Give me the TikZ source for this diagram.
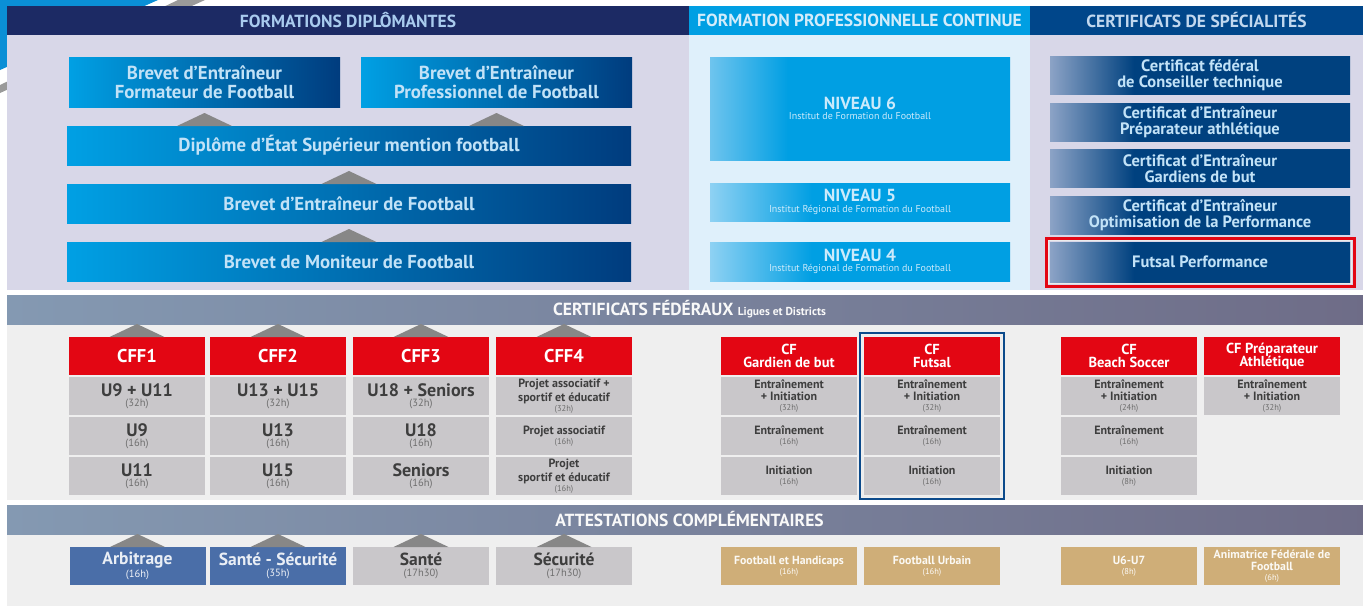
\documentclass[tikz,border=0pt]{standalone}
\usepackage{fontspec}
\setmainfont{PT Sans}
\usetikzlibrary{positioning}

\definecolor{navy}{HTML}{1C2A64}
\definecolor{sky}{HTML}{009FE3}
\definecolor{royal}{HTML}{00468A}
\definecolor{lavender}{HTML}{D8D7E8}
\definecolor{icy}{HTML}{DFF0FB}
\definecolor{dipL}{HTML}{00A0E4}
\definecolor{dipR}{HTML}{003C7E}
\definecolor{txtLB}{HTML}{C2E2F7}
\definecolor{txtN}{HTML}{CBEAFB}
\definecolor{hdA}{HTML}{A9CBEE}
\definecolor{hdB}{HTML}{D3ECFB}
\definecolor{hdC}{HTML}{C1D7EE}
\definecolor{nivL}{HTML}{8ED1F3}
\definecolor{nivM}{HTML}{6EC4EE}
\definecolor{certL}{HTML}{8CA3C6}
\definecolor{certD}{HTML}{00417F}
\definecolor{bandL}{HTML}{8499B2}
\definecolor{bandR}{HTML}{6E6C87}
\definecolor{pale}{HTML}{EFEFEF}
\definecolor{cfred}{HTML}{E30613}
\definecolor{cellgray}{HTML}{C9C7CA}
\definecolor{celltxt}{HTML}{3E3E3E}
\definecolor{trigray}{HTML}{878787}
\definecolor{attblue}{HTML}{4A6EA8}
\definecolor{gold}{HTML}{CFAE78}
\definecolor{framebl}{HTML}{0B4A8B}
\definecolor{decoblue}{HTML}{0A8FD6}
\definecolor{decogray}{HTML}{9A9A9A}

\pgfdeclarehorizontalshading{certshade}{100bp}{color(0bp)=(certL); color(25bp)=(certL); color(39bp)=(certD); color(100bp)=(certD)}
\pgfdeclarehorizontalshading{nivshade}{100bp}{color(0bp)=(nivL); color(25bp)=(nivL); color(42bp)=(sky); color(100bp)=(sky)}
\pgfdeclarehorizontalshading{nivsixshade}{100bp}{color(0bp)=(nivM); color(25bp)=(nivM); color(38bp)=(sky); color(100bp)=(sky)}

% hours, small and big
\newcommand\hrs[1]{\\{\mdseries\fontsize{8.5}{8}\selectfont\color{.!75!white}(#1)}}
\newcommand\hrb[1]{\\{\mdseries\fontsize{10.5}{8}\selectfont\color{.!75!white}(#1)}}
\newcommand\nivtitle[1]{{\bfseries\fontsize{17.5}{10}\selectfont #1}}
\newcommand\steptri[1]{\fill[tri] ([xshift=-27.5pt]#1) -- ([yshift=13pt]#1) -- ([xshift=27.5pt]#1) -- cycle;}

\tikzset{
    box/.style={inner sep=0pt, outer sep=0pt, align=center},
    head/.style={box, minimum height=29pt, font=\bfseries\fontsize{17.5}{16}\selectfont},
    band/.style={box, minimum height=29pt, left color=bandL, right color=bandR, text=white!95!gray, font=\bfseries\fontsize{17.5}{16}\selectfont},
    diplo/.style={box, minimum height=39pt, left color=dipL, right color=dipR, text=txtLB, font=\bfseries\fontsize{18.8}{19}\selectfont},
    niveau/.style={box, minimum width=300pt, shading=nivshade, text=txtN, font=\fontsize{10}{10.5}\selectfont},
    cert/.style={box, minimum width=300pt, minimum height=38pt, shading=certshade, text=txtLB, font=\bfseries\fontsize{16.5}{16}\selectfont},
    cfhead/.style={box, minimum width=136pt, minimum height=38pt, fill=cfred, text=white, font=\bfseries\fontsize{14.5}{13.5}\selectfont},
    cffhead/.style={cfhead, font=\bfseries\fontsize{18.5}{17}\selectfont},
    cell/.style={box, minimum width=136pt, minimum height=38pt, fill=cellgray, text=celltxt, font=\bfseries\fontsize{18}{10.5}\selectfont},
    cellsm/.style={cell, font=\bfseries\fontsize{12}{10}\selectfont},
    attest/.style={box, minimum width=136pt, minimum height=38pt, fill=attblue, text=white!88!attblue, font=\bfseries\fontsize{17.5}{10.5}\selectfont},
    goldbox/.style={box, minimum width=136pt, minimum height=38pt, fill=gold, text=white!92!gold, font=\bfseries\fontsize{11.8}{10}\selectfont},
    tri/.style={fill=trigray},
}

\begin{document}
\begin{tikzpicture}[x=1pt, y=-1pt]
    \useasboundingbox (0,0) rectangle (1363,608);

    % Corner decoration
    \fill[decoblue] (0,0) -- (158,0) -- (0,70) -- cycle;
    \fill[decogray] (0,85) -- (178,0) -- (205,0) -- (0,93) -- cycle;

    % Panels
    \fill[lavender] (7,35) rectangle (689,290);
    \fill[icy] (689,35) rectangle (1030,290);
    \fill[lavender] (1030,35) rectangle (1363,290);
    \fill[pale] (7,324) rectangle (1363,500);
    \fill[pale] (7,534) rectangle (1363,606);

    % Headers
    \node[head, fill=navy, text=hdA, minimum width=682pt] (hdip) at (348,20.5) {FORMATIONS DIPLÔMANTES};
    \node[head, fill=sky, text=hdB, minimum width=341pt] (hfpc) at (859.5,20.5) {FORMATION PROFESSIONNELLE CONTINUE};
    \node[head, fill=royal, text=hdC, minimum width=333pt] (hspe) at (1196.5,20.5) {CERTIFICATS DE SPÉCIALITÉS};

    % Formations diplomantes
    \node[diplo, minimum width=271pt, minimum height=50pt] (bform) at (204.5,82) {Brevet d’Entraîneur\\Formateur de Football};
    \node[diplo, minimum width=271pt, minimum height=50pt] (bpro) at (496.5,82) {Brevet d’Entraîneur\\Professionnel de Football};
    \node[diplo, minimum width=564pt] (des) at (349,145.5) {Diplôme d’État Supérieur mention football};
    \node[diplo, minimum width=564pt] (bent) at (349,203.5) {Brevet d’Entraîneur de Football};
    \node[diplo, minimum width=564pt] (bmf) at (349,261.5) {Brevet de Moniteur de Football};

    % Steps
    \coordinate (sform) at (bform.south |- des.north);
    \coordinate (spro) at (bpro.south |- des.north);
    \steptri{sform}
    \steptri{spro}
    \steptri{bent.north}
    \steptri{bmf.north}

    % Formation continue
    \node[niveau, shading=nivsixshade, minimum height=103pt] (niv6) at (860,108.5) {\nivtitle{NIVEAU 6}\\Institut de Formation du Football};
    \node[niveau, minimum height=38pt] (niv5) at (860,202) {\nivtitle{NIVEAU 5}\\Institut Régional de Formation du Football};
    \node[niveau, minimum height=39pt] (niv4) at (860,261.5) {\nivtitle{NIVEAU 4}\\Institut Régional de Formation du Football};

    % Specialites
    \node[cert] (cct) at (1200,75) {Certificat fédéral\\de Conseiller technique};
    \node[cert] (cpa) at (1200,122) {Certificat d’Entraîneur\\Préparateur athlétique};
    \node[cert] (cgb) at (1200,168.5) {Certificat d’Entraîneur\\Gardiens de but};
    \node[cert] (cop) at (1200,215) {Certificat d’Entraîneur\\Optimisation de la Performance};
    \node[cert, minimum height=40pt] (cfp) at (1200,262) {Futsal Performance};
    \draw[white!85!gray, line width=1pt] ([shift={(-1.5,1.5)}]cfp.south west) rectangle ([shift={(1.5,-1.5)}]cfp.north east);
    \draw[cfred, line width=3pt] ([shift={(-4,4)}]cfp.south west) rectangle ([shift={(4,-4)}]cfp.north east);

    % Certificats federaux
    \node[band, minimum width=1365pt] (bcf) at (689.5,309.5) {CERTIFICATS FÉDÉRAUX {\fontsize{11.5}{10}\selectfont Ligues et Districts}};

    \foreach \n/\x/\a/\b/\c in {1/137/U9 + U11/U9/U11, 2/278/U13 + U15/U13/U15, 3/421/U18 + Seniors/U18/Seniors} {
        \node[cffhead] (cff\n) at (\x,356) {CFF\n};
        \node[cell, below=2pt of cff\n] (cff\n a) {\a\hrb{32h}};
        \node[cell, below=2pt of cff\n a] (cff\n b) {\b\hrb{16h}};
        \node[cell, below=2pt of cff\n b] (cff\n c) {\c\hrb{16h}};
        \steptri{cff\n.north}
    }
    \node[cffhead] (cff4) at (564,356) {CFF4};
    \node[cellsm, below=2pt of cff4] (cff4a) {Projet associatif +\\[2pt]sportif et éducatif\hrs{32h}};
    \node[cellsm, below=2pt of cff4a] (cff4b) {Projet associatif\hrs{16h}};
    \node[cellsm, below=2pt of cff4b] (cff4c) {Projet\\[2pt]sportif et éducatif\hrs{16h}};
    \steptri{cff4.north}

    \node[cfhead] (cfgb) at (789,356) {CF\\Gardien de but};
    \node[cellsm, below=2pt of cfgb] (cfgba) {Entraînement\\[2pt]+ Initiation\hrs{32h}};
    \node[cellsm, below=2pt of cfgba] (cfgbb) {Entraînement\hrs{16h}};
    \node[cellsm, below=2pt of cfgbb] (cfgbc) {Initiation\hrs{16h}};

    \node[cfhead] (cffu) at (932,356) {CF\\Futsal};
    \node[cellsm, below=2pt of cffu] (cffua) {Entraînement\\[2pt]+ Initiation\hrs{32h}};
    \node[cellsm, below=2pt of cffua] (cffub) {Entraînement\hrs{16h}};
    \node[cellsm, below=2pt of cffub] (cffuc) {Initiation\hrs{16h}};
    \draw[white!85!gray, line width=0.8pt] ([shift={(-1.5,-1.5)}]cffu.north west) rectangle ([shift={(1.5,1.5)}]cffuc.south east);
    \draw[framebl, line width=2.5pt] ([shift={(-4,-4)}]cffu.north west) rectangle ([shift={(4,4)}]cffuc.south east);

    \node[cfhead] (cfbs) at (1129,356) {CF\\Beach Soccer};
    \node[cellsm, below=2pt of cfbs] (cfbsa) {Entraînement\\[2pt]+ Initiation\hrs{24h}};
    \node[cellsm, below=2pt of cfbsa] (cfbsb) {Entraînement\hrs{16h}};
    \node[cellsm, below=2pt of cfbsb] (cfbsc) {Initiation\hrs{8h}};

    \node[cfhead] (cfpa) at (1272,356) {CF Préparateur\\Athlétique};
    \node[cellsm, below=2pt of cfpa] (cfpaa) {Entraînement\\[2pt]+ Initiation\hrs{32h}};

    % Attestations complementaires
    \node[band, minimum width=1365pt] (bac) at (689.5,519.5) {ATTESTATIONS COMPLÉMENTAIRES};

    \node[attest] (arb) at (137.5,566) {Arbitrage\hrb{16h}};
    \node[attest] (sse) at (278,566) {Santé - Sécurité\hrb{35h}};
    \node[attest, fill=cellgray, text=celltxt] (san) at (421,566) {Santé\hrb{17h30}};
    \node[attest, fill=cellgray, text=celltxt] (sec) at (564,566) {Sécurité\hrb{17h30}};
    \foreach \a in {arb, sse, san, sec} {
        \steptri{\a.north}
    }

    \node[goldbox] (fhan) at (789,566) {Football et Handicaps\hrs{16h}};
    \node[goldbox] (furb) at (932,566) {Football Urbain\hrs{16h}};
    \node[goldbox] (u67) at (1129,566) {U6-U7\hrs{8h}};
    \node[goldbox] (anim) at (1272,566) {Animatrice Fédérale de\\[2pt]Football\hrs{6h}};

\end{tikzpicture}
\end{document}
